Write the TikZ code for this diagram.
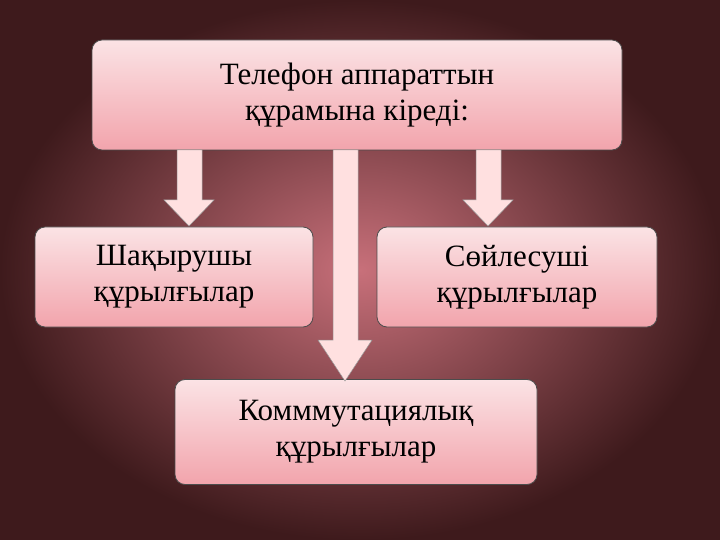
\documentclass[tikz,border=0pt]{standalone}
\usepackage{fontspec}
\setmainfont{Liberation Serif}
\definecolor{bgin}{HTML}{C8707A}
\definecolor{bgout}{HTML}{3E1A1C}
\definecolor{btop}{HTML}{FBE3E5}
\definecolor{bbot}{HTML}{F2A4AC}
\begin{document}
\begin{tikzpicture}[x=1pt,y=-1pt,
 box/.style={draw=black!70,line width=0.8pt,rounded corners=10pt,top color=btop,bottom color=bbot,align=center,font=\fontsize{31}{36}\selectfont,inner sep=0pt},
 arr/.style={draw=black!40,line width=0.5pt,fill=red!12!white}]
\useasboundingbox (0,0) rectangle (720,540);
\fill[inner color=bgin, outer color=bgout] (0,0) rectangle (720,540);
\node[box,minimum width=530,minimum height=110] (top) at (357,95) {Телефон аппараттын\\құрамына кіреді:};
\node[box,minimum width=278,minimum height=100] (l) at (174,277) {Шақырушы\\құрылғылар};
\node[box,minimum width=280,minimum height=100] (r) at (517,277) {Сөйлесуші\\құрылғылар};
\node[box,minimum width=362,minimum height=105] (b) at (356,432) {Комммутациялық\\құрылғылар};
\draw[arr] (177,150) -- (202,150) -- (202,200) -- (214,200) -- (189,226) -- (164,200) -- (177,200) -- cycle;
\draw[arr] (476,150) -- (501,150) -- (501,200) -- (513,200) -- (488,226) -- (463,200) -- (476,200) -- cycle;
\draw[arr] (333,150) -- (358,150) -- (358,340) -- (372,340) -- (345,381) -- (318,340) -- (333,340) -- cycle;
\end{tikzpicture}
\end{document}
